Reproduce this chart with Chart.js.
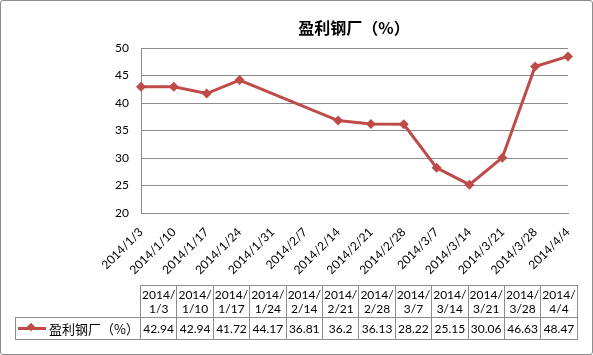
<!DOCTYPE html>
<html>
<head>
<meta charset="utf-8">
<script src="https://cdn.jsdelivr.net/npm/chart.js@4"></script>
<style>
    body { margin: 0; background: #fff; }
    #wrap { position: relative; width: 593px; height: 355px; background: #fff; overflow: hidden; }
    #frame { position: absolute; left: 0; top: 0; width: 591px; height: 353px; border: 1px solid #8c8c8c; border-radius: 3px; pointer-events: none; }
    #chart { position: absolute; left: 0; top: 0; }
    #title { position: absolute; top: 15px; left: 254px; width: 200px; text-align: center;
        font: bold 16px "Noto Sans CJK SC", sans-serif; color: #000; }
    #table { position: absolute; left: 15px; top: 285px; border-collapse: collapse; table-layout: fixed;
        font: 12px Lato, "Noto Sans CJK SC", sans-serif; color: #000; }
    #table td { border: 1px solid #8c8c8c; padding: 0; text-align: center; width: 35.4px; }
    #table tr.head td { height: 31px; line-height: 14px; }
    #table tr.vals td { height: 21px; }
    #table td.blank { border: none; width: 124px; }
    #table td.key { width: 124px; text-align: left; white-space: nowrap; }
    .swatch { display: inline-block; position: relative; width: 28px; height: 3px; background: #be4b48;
        vertical-align: middle; margin: 0 3px 0 2px; }
    .swatch i { position: absolute; left: 10px; top: -3px; width: 6px; height: 6px; background: #be4b48; transform: rotate(45deg); }
    .key span { font: 13px "Noto Sans CJK SC", sans-serif; vertical-align: middle; }
</style>
</head>
<body>
<div id="wrap">
    <canvas id="chart" width="593" height="355"></canvas>
    <div id="title">盈利钢厂（%）</div>
    <table id="table"></table>
    <div id="frame"></div>
</div>
<script>
const seriesName = '盈利钢厂（%）';
const dates = ['2014/1/3', '2014/1/10', '2014/1/17', '2014/1/24', '2014/1/31', '2014/2/7', '2014/2/14',
    '2014/2/21', '2014/2/28', '2014/3/7', '2014/3/14', '2014/3/21', '2014/3/28', '2014/4/4'];
// 1/31 and 2/7 have no reading, the line just runs across them
const values = [42.94, 42.94, 41.72, 44.17, null, null, 36.81, 36.2, 36.13, 28.22, 25.15, 30.06, 46.63, 48.47];
const yTicks = [20, 25, 30, 35, 40, 45, 50];

const lineColor = '#be4b48';
const gridColor = '#8c8c8c';

// data table under the plot
function buildTable() {
    const table = document.getElementById('table');
    let head = '<tr class="head"><td class="blank"></td>';
    let vals = `<tr class="vals"><td class="key"><span class="swatch"><i></i></span><span>${seriesName}</span></td>`;
    dates.forEach((d, i) => {
        if (values[i] === null) return;
        const parts = d.split('/');
        head += `<td>${parts[0]}/<br>${parts[1]}/${parts[2]}</td>`;
        vals += `<td>${values[i]}</td>`;
    });
    table.innerHTML = head + '</tr>' + vals + '</tr>';
}

function drawChart() {
    const ctx = document.getElementById('chart').getContext('2d');
    new Chart(ctx, {
        type: 'line',
        data: {
            labels: dates,
            datasets: [{
                label: seriesName,
                data: values,
                borderColor: lineColor,
                backgroundColor: lineColor,
                borderWidth: 3,
                pointStyle: 'rectRot',
                pointRadius: 5,
                pointBorderWidth: 0,
                spanGaps: true,
                tension: 0
            }]
        },
        options: {
            responsive: false,
            animation: false,
            devicePixelRatio: 1,
            layout: { padding: { top: 48, right: 25, bottom: 70, left: 0 } },
            plugins: {
                legend: { display: false },
                tooltip: { enabled: false }
            },
            scales: {
                y: {
                    min: yTicks[0],
                    max: yTicks[yTicks.length - 1],
                    afterBuildTicks: s => { s.ticks = yTicks.map(v => ({ value: v })); },
                    afterFit: s => { s.width = 141; },
                    ticks: { padding: 12, color: '#000', font: { family: 'Lato', size: 12 } },
                    grid: { color: gridColor, drawTicks: false },
                    border: { color: gridColor }
                },
                x: {
                    offset: false,
                    afterFit: s => { s.height = 72; },
                    ticks: {
                        autoSkip: false, minRotation: 45, maxRotation: 45, padding: 4,
                        color: '#000', font: { family: 'Lato', size: 12 }
                    },
                    grid: { display: false },
                    border: { display: true, color: gridColor }
                }
            }
        }
    });
}

document.addEventListener('DOMContentLoaded', () => {
    buildTable();
    drawChart();
});
</script>
</body>
</html>
